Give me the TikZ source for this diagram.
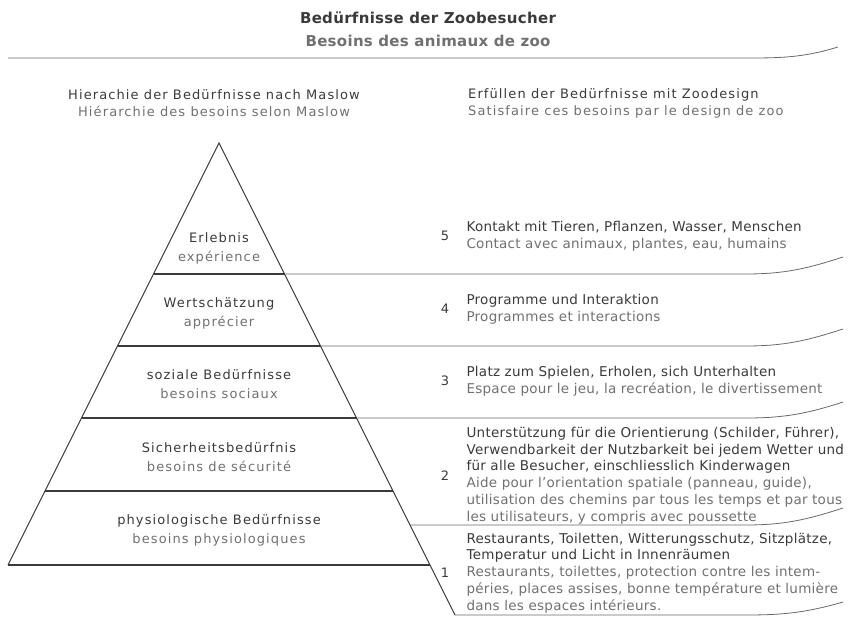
\documentclass[tikz,border=0pt]{standalone}
\usepackage{fontspec}
\setmainfont{DejaVu Sans}[LetterSpace=2]
\newfontfamily\widefont{DejaVu Sans}[LetterSpace=8.5]
\newfontfamily\titlefont{DejaVu Sans}[LetterSpace=2]
\usepackage{tikz}
\usetikzlibrary{positioning}
\definecolor{ink}{HTML}{3A3A3A}
\definecolor{inkfr}{HTML}{707070}
\definecolor{rulegray}{HTML}{6E6668}
\tikzstyle{title} = [font=\titlefont\bfseries\fontsize{15}{18}\selectfont, inner sep=0pt]
\tikzstyle{head} = [font=\widefont\fontsize{13}{17}\selectfont, text=ink, inner sep=0pt]
\tikzstyle{level} = [font=\widefont\fontsize{13}{19}\selectfont, text=ink, align=center, inner sep=0pt]
\tikzstyle{item} = [font=\fontsize{13.5}{16.8}\selectfont, text=ink, align=left, inner sep=0pt]
\tikzstyle{num} = [font=\fontsize{13}{16}\selectfont, text=ink, inner sep=0pt]
\tikzstyle{pyr} = [line width=1.1pt, draw=ink]
\tikzstyle{sep} = [line width=0.8pt, draw=rulegray]

\begin{document}
\begin{tikzpicture}[x=1pt, y=-1pt, node distance=17pt]
    \useasboundingbox (0,0) rectangle (851,619);

    % title
    \node (Title) [title, text=ink] at (428,18) {Bedürfnisse der Zoobesucher};
    \node (SubTitle) [title, text=inkfr] at (428,41) {Besoins des animaux de zoo};
    \draw [sep] (8,58) -- (740,58) to[out=0,in=197] (838,47);

    % column heads
    \node (HeadLeft) [head, align=center] at (214,103.5) {Hierachie der Bedürfnisse nach Maslow\\\color{inkfr}Hiérarchie des besoins selon Maslow};
    \node (HeadRight) [head, align=left, anchor=west] at (468,103.5) {Erfüllen der Bedürfnisse mit Zoodesign\\\color{inkfr}Satisfaire ces besoins par le design de zoo};

    % pyramid
    \coordinate (Apex) at (219,143);
    \coordinate (BaseLeft) at (8,565);
    \coordinate (BaseRight) at (430,565);
    \coordinate (Tip) at (455,615);
    \draw [pyr] (BaseLeft) -- (Apex) -- (Tip);
    \draw [pyr] (BaseLeft) -- (BaseRight);
    \draw [pyr] (153.5,274) -- (284.5,274);
    \draw [pyr] (117.5,346) -- (320.5,346);
    \draw [pyr] (81.5,418) -- (356.5,418);
    \draw [pyr] (45,491) -- (393,491);

    \node (Erlebnis) [level] at (219,248.5) {Erlebnis\\\color{inkfr}expérience};
    \node (Wert) [level] at (219,313) {Wertschätzung\\\color{inkfr}apprécier};
    \node (Sozial) [level] at (219,384.5) {soziale Bedürfnisse\\\color{inkfr}besoins sociaux};
    \node (Sicher) [level] at (219,457) {Sicherheitsbedürfnis\\\color{inkfr}besoins de sécurité};
    \node (Physio) [level] at (219,530.5) {physiologische Bedürfnisse\\\color{inkfr}besoins physiologiques};

    % separators on the right
    \draw [sep] (284.5,274) -- (745,274) to[out=0,in=198] (843,257);
    \draw [sep] (320.5,346) -- (745,346) to[out=0,in=198] (843,329);
    \draw [sep] (356.5,418) -- (745,418) to[out=0,in=198] (843,402);
    \draw [sep] (410,525) -- (745,525) to[out=0,in=198] (843,508);
    \draw [sep] (Tip) -- (745,615) to[out=0,in=196] (843,602);

    % zoo design items
    \node (N5) [num] at (445,236) {5};
    \node (T5) [item, right=17pt of N5] {Kontakt mit Tieren, Pflanzen, Wasser, Menschen\\\color{inkfr}Contact avec animaux, plantes, eau, humains};
    \node (N4) [num] at (445,309) {4};
    \node (T4) [item, right=17pt of N4] {Programme und Interaktion\\\color{inkfr}Programmes et interactions};
    \node (N3) [num] at (445,381) {3};
    \node (T3) [item, right=17pt of N3] {Platz zum Spielen, Erholen, sich Unterhalten\\\color{inkfr}Espace pour le jeu, la recréation, le divertissement};
    \node (N2) [num] at (445,475.5) {2};
    \node (T2) [item, right=17pt of N2] {Unterstützung für die Orientierung (Schilder, Führer),\\Verwendbarkeit der Nutzbarkeit bei jedem Wetter und\\für alle Besucher, einschliesslich Kinderwagen\\\color{inkfr}Aide pour l'orientation spatiale (panneau, guide),\\\color{inkfr}utilisation des chemins par tous les temps et par tous\\\color{inkfr}les utilisateurs, y compris avec poussette};
    \node (N1) [num] at (445,573) {1};
    \node (T1) [item, right=17pt of N1] {Restaurants, Toiletten, Witterungsschutz, Sitzplätze,\\Temperatur und Licht in Innenräumen\\\color{inkfr}Restaurants, toilettes, protection contre les intem-\\\color{inkfr}péries, places assises, bonne température et lumière\\\color{inkfr}dans les espaces intérieurs.};
\end{tikzpicture}
\end{document}
